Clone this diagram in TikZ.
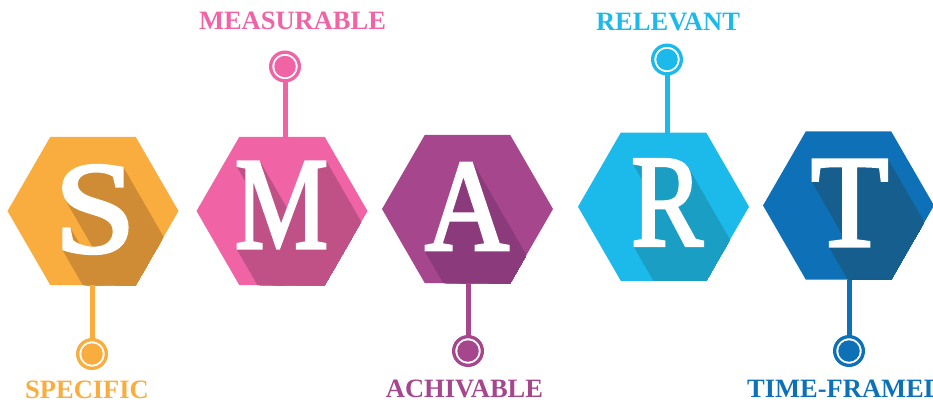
\documentclass[tikz,border=0pt]{standalone}
\usepackage{fontspec}
\usepackage{graphicx}
\setmainfont{Liberation Serif}
\newfontfamily\heavyserif[FakeBold=2.5]{Liberation Serif}
\usetikzlibrary{shapes.geometric}
\definecolor{sF}{HTML}{F9AD3E}\definecolor{sD}{HTML}{D08C35}
\definecolor{mF}{HTML}{F064A5}\definecolor{mD}{HTML}{BF5186}
\definecolor{aF}{HTML}{A6478D}\definecolor{aD}{HTML}{8B3A7B}
\definecolor{rF}{HTML}{1CB9EB}\definecolor{rD}{HTML}{1A9EC4}
\definecolor{tF}{HTML}{0E71B7}\definecolor{tD}{HTML}{155E8E}
\tikzset{
  hexa/.style={regular polygon, regular polygon sides=6, minimum size=171pt,
    inner sep=0pt, outer sep=0pt, draw=none, fill=#1},
  bigletter/.style={font=\heavyserif\fontsize{131}{131}\selectfont, inner sep=0pt, text=#1},
  stem/.style={line width=5pt, draw=#1},
  ring/.style={circle, minimum size=28.7pt, inner sep=0pt, draw=#1, line width=3.3pt, fill=white},
  dot/.style={circle, minimum size=21.5pt, inner sep=0pt, fill=#1},
  lbl/.style={font=\bfseries\fontsize{26.5}{26.5}\selectfont, text=#1, inner sep=0pt, anchor=base}
}
\begin{document}
\begin{tikzpicture}[x=1pt,y=-1pt]
\useasboundingbox (0,0) rectangle (933,405);
\foreach \nm/\hx/\hy/\lt/\lx/\ly/\sx/\fc/\sc/\cx/\cy/\side in {
  S/93/211/S/95/209.5/1.12/sF/sD/92/354/south,
  M/282/211/M/281.5/205/0.80/mF/mD/285/66.5/north,
  A/467.5/209/A/467/206.5/0.89/aF/aD/468/351/south,
  R/663.5/206.7/R/667/202.5/0.82/rF/rD/667/59.5/north,
  T/848.5/205.5/T/849.7/203/0.97/tF/tD/849/351/south}{
  \node[hexa=\fc] (h\nm) at (\hx,\hy) {};
  \begin{scope}
    \clip (h\nm.corner 1) -- (h\nm.corner 2) -- (h\nm.corner 3) -- (h\nm.corner 4)
      -- (h\nm.corner 5) -- (h\nm.corner 6) -- cycle;
    \foreach \k in {1,...,130}
      \node[bigletter=\sc] at (\lx+\k*0.6,\ly+\k*1.04) {\scalebox{\sx}[1]{\lt}};
  \end{scope}
  \node[bigletter=white] (l\nm) at (\lx,\ly) {\scalebox{\sx}[1]{\lt}};
  \coordinate (s\nm) at (\cx,\cy);
  \draw[stem=\fc] (s\nm) -- (s\nm |- h\nm.\side);
  \node[ring=\fc] (c\nm) at (s\nm) {};
  \node[dot=\fc] (d\nm) at (c\nm) {};
}
\node[lbl=sF] (tS) at (87,398) {SPECIFIC};
\node[lbl=mF] (tM) at (292.5,29) {MEASURABLE};
\node[lbl=aF] (tA) at (464.5,397) {ACHIVABLE};
\node[lbl=rF] (tR) at (668,30) {RELEVANT};
\node[lbl=tF, anchor=base west] (tT) at (747,397) {TIME-FRAMED};
\end{tikzpicture}
\end{document}
